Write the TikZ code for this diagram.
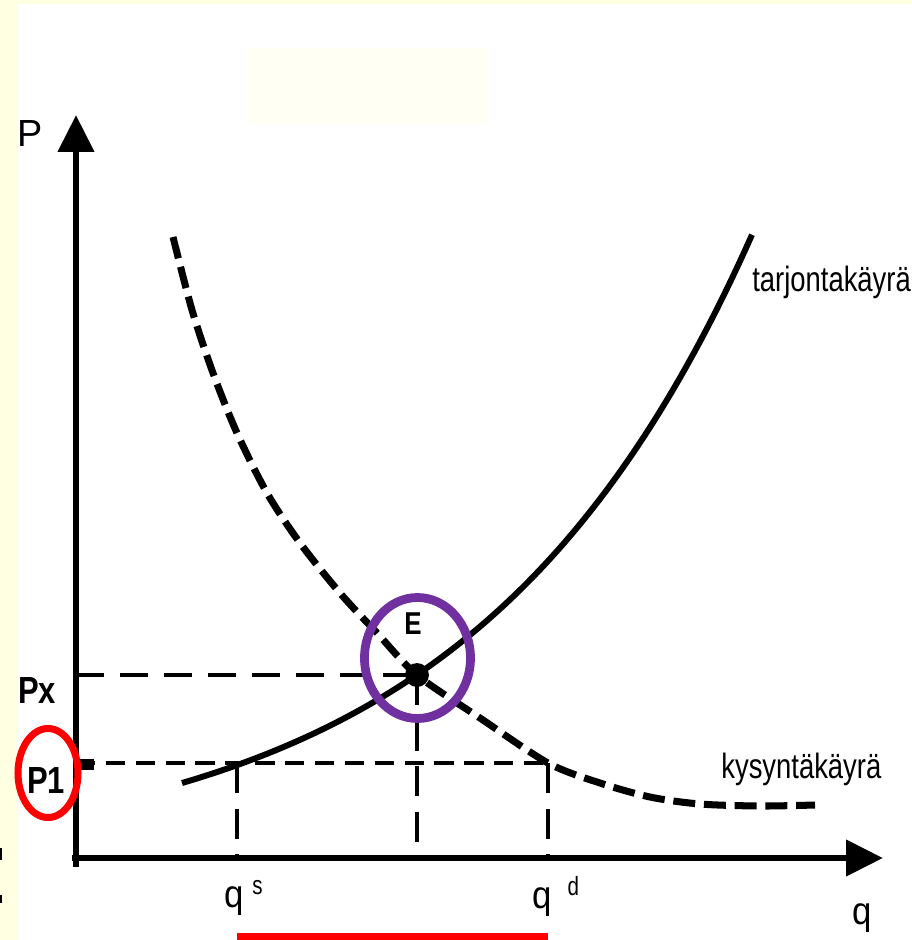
\documentclass[tikz,border=0pt]{standalone}
\usepackage{fontspec}
\setmainfont{Liberation Sans}
\newfontfamily\narrowsans[FakeStretch=0.78]{Liberation Sans}
\newfontfamily\labelsans[FakeStretch=0.82]{Liberation Sans}
\newfontfamily\axissans[FakeStretch=0.9]{Liberation Sans}
\usepackage{xcolor}
\usetikzlibrary{arrows.meta}

\definecolor{bgyellow}{RGB}{255,255,225}
\definecolor{markpurple}{RGB}{112,48,160}

\newcommand{\qlabel}[2]{q\hspace{#2}\raisebox{7pt}{\narrowsans\fontsize{15}{15}\selectfont #1}}

\begin{document}
\begin{tikzpicture}[
  x=0.02cm, y=-0.02cm,
  axis/.style={line width=3.8pt, -{Triangle[length=21pt,width=20pt]}},
  supply/.style={line width=3.4pt},
  demand/.style={line width=4pt, dash pattern=on 12.5pt off 5pt},
  guide/.style={line width=2.4pt, dash pattern=on 16pt off 9pt},
  vguide/.style={line width=2.2pt, dash pattern=on 17pt off 9pt},
  ring/.style={line width=5pt},
  lbl/.style={font=\narrowsans\fontsize{20}{24}\selectfont, inner sep=0pt},
  albl/.style={font=\axissans\fontsize{22}{26}\selectfont, inner sep=0pt},
  blbl/.style={font=\labelsans\bfseries\fontsize{21.5}{25}\selectfont, inner sep=0pt}
]
  \useasboundingbox (0,0) rectangle (912,940);
  \fill[bgyellow] (0,0) rectangle (912,940);
  \fill[white] (18,4) rectangle (912,940);
  \fill[bgyellow!40] (247,48) rectangle (487,124);
  \fill (0,848) rectangle (2,860);
  \fill (0,895) rectangle (2,903);

  \coordinate (O) at (76,858);
  \coordinate (E) at (417,675);
  \coordinate (Px) at (76,675);
  \coordinate (P1) at (76,763);
  \coordinate (S1) at (237,763);
  \coordinate (D1) at (548,763);

  % axes
  \draw[axis] (76,867) -- (76,115);
  \draw[axis] (72,858) -- (883,858);

  % price and quantity guides
  \draw[guide] (Px) -- (E);
  \draw[guide, dash pattern=on 11pt off 6pt] (P1) -- (D1);
  \draw[vguide] (S1) -- (S1 |- O);
  \draw[vguide] (E) -- (E |- O);
  \draw[vguide] (D1) -- (D1 |- O);
  \fill (76,759) rectangle (94,770);

  % supply and demand
  \draw[supply] plot[domain=182:752, samples=80]
    (\x, {865.4-82.4*exp(0.003563*(\x-182))});
  \draw[demand] plot[smooth] coordinates {(173,237) (192,310) (213,373) (237,433)
    (267,493) (300,543) (340,593) (377,633) (417,675) (480,718) (548,763)
    (600,783) (650,797) (700,804) (760,806) (815,805)};
  \fill (E) circle[radius=6.8pt];

  % highlights
  \draw[ring, markpurple] (417.5,658) ellipse[x radius=53, y radius=60.5];
  \draw[ring, red, line width=4pt] (48,773) ellipse[x radius=30, y radius=44.5];
  \draw[red, line width=4pt] (237,936.5) -- (548,936.5);

  % labels
  \node[font=\fontsize{21.5}{25}\selectfont, inner sep=0pt] (plabel) at (30,134) {P};
  \node[albl] (qaxis) at (862,918) {q};
  \node[blbl] (pxlabel) at (37,690) {Px};
  \node[blbl] (p1label) at (46,780) {P1};
  \node[blbl, font=\labelsans\bfseries\fontsize{18}{21}\selectfont] (elabel) at (413,624) {E};
  \node[lbl, anchor=base west] (demandlabel) at (721,778) {kysyntäkäyrä};
  \node[lbl, anchor=base west] (supplylabel) at (752,291) {tarjontakäyrä};
  \node[albl, anchor=base west] (qslabel) at (224,907) {\qlabel{s}{5pt}};
  \node[albl, anchor=base west] (qdlabel) at (532,908) {\qlabel{d}{9pt}};
\end{tikzpicture}
\end{document}
